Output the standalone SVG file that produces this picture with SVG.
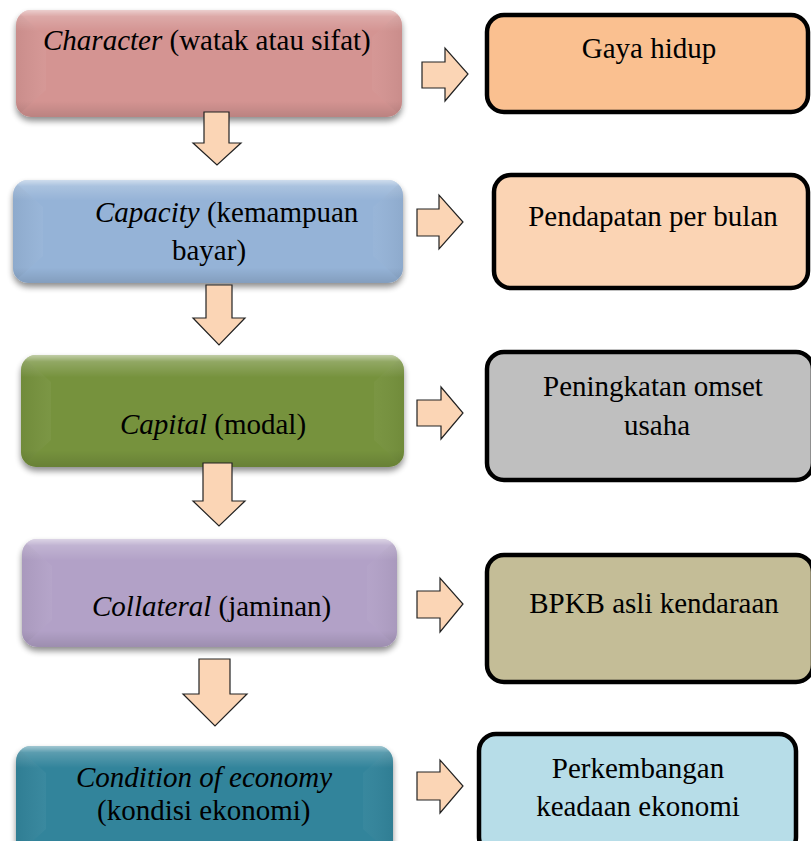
<svg xmlns="http://www.w3.org/2000/svg" width="811" height="841" viewBox="0 0 811 841" font-family="Liberation Serif, serif">
  <style>
    .lbl { font-size: 29px; fill: #000; }
    .it { font-style: italic; }
    .arrow { fill: #fbd5b5; stroke: #222; stroke-width: 1.2; stroke-linejoin: miter; }
    .out { stroke: #000; stroke-width: 4.5; }
    .gloss { fill: url(#gloss); }
    .facetL { fill: url(#facetL); }
    .facetR { fill: url(#facetR); }
  </style>
  <defs>
    <filter id="shadow" x="-10%" y="-20%" width="120%" height="150%">
      <feGaussianBlur in="SourceAlpha" stdDeviation="3"/>
      <feOffset dy="4" result="b"/>
      <feComponentTransfer><feFuncA type="linear" slope="0.45"/></feComponentTransfer>
      <feMerge><feMergeNode/><feMergeNode in="SourceGraphic"/></feMerge>
    </filter>
    <linearGradient id="gloss" x1="0" y1="0" x2="0" y2="1">
      <stop offset="0" stop-color="#fff" stop-opacity="0.55"/>
      <stop offset="0.06" stop-color="#fff" stop-opacity="0.2"/>
      <stop offset="0.2" stop-color="#fff" stop-opacity="0"/>
      <stop offset="0.85" stop-color="#000" stop-opacity="0"/>
      <stop offset="1" stop-color="#000" stop-opacity="0.12"/>
    </linearGradient>
    <linearGradient id="facetL" x1="0" y1="0" x2="1" y2="0">
      <stop offset="0" stop-color="#000" stop-opacity="0.05"/>
      <stop offset="1" stop-color="#fff" stop-opacity="0.04"/>
    </linearGradient>
    <linearGradient id="facetR" x1="0" y1="0" x2="1" y2="0">
      <stop offset="0" stop-color="#fff" stop-opacity="0.03"/>
      <stop offset="1" stop-color="#000" stop-opacity="0.05"/>
    </linearGradient>
    <clipPath id="c1"><rect x="16" y="10" width="386" height="107" rx="15"/></clipPath>
    <clipPath id="c2"><rect x="13" y="180" width="390" height="103" rx="15"/></clipPath>
    <clipPath id="c3"><rect x="21" y="355" width="383" height="112" rx="15"/></clipPath>
    <clipPath id="c4"><rect x="22" y="539" width="375" height="108" rx="15"/></clipPath>
    <clipPath id="c5"><rect x="16" y="746" width="377" height="110" rx="15"/></clipPath>
  </defs>

  <rect width="811" height="841" fill="#fff"/>

  <!-- left column: the five C's -->
  <g id="character">
    <rect x="16" y="10" width="386" height="107" rx="15" fill="#d49492" filter="url(#shadow)"/>
    <g clip-path="url(#c1)">
      <polygon class="facetL" points="16,10 46,37 46,90 16,117"/>
      <polygon class="facetR" points="402,10 372,37 372,90 402,117"/>
      <rect class="gloss" x="16" y="10" width="386" height="107"/>
    </g>
    <text class="lbl" x="43" y="50"><tspan class="it">Character</tspan> (watak atau sifat)</text>
  </g>

  <g id="capacity">
    <rect x="13" y="180" width="390" height="103" rx="15" fill="#95b3d7" filter="url(#shadow)"/>
    <g clip-path="url(#c2)">
      <polygon class="facetL" points="13,180 43,207 43,256 13,283"/>
      <polygon class="facetR" points="403,180 373,207 373,256 403,283"/>
      <rect class="gloss" x="13" y="180" width="390" height="103"/>
    </g>
    <text class="lbl" x="95" y="222"><tspan class="it">Capacity</tspan> (kemampuan</text>
    <text class="lbl" x="172" y="260">bayar)</text>
  </g>

  <g id="capital">
    <rect x="21" y="355" width="383" height="112" rx="15" fill="#76923c" filter="url(#shadow)"/>
    <g clip-path="url(#c3)">
      <polygon class="facetL" points="21,355 51,382 51,440 21,467"/>
      <polygon class="facetR" points="404,355 374,382 374,440 404,467"/>
      <rect class="gloss" x="21" y="355" width="383" height="112"/>
    </g>
    <text class="lbl" x="120" y="434"><tspan class="it">Capital</tspan> (modal)</text>
  </g>

  <g id="collateral">
    <rect x="22" y="539" width="375" height="108" rx="15" fill="#b2a1c7" filter="url(#shadow)"/>
    <g clip-path="url(#c4)">
      <polygon class="facetL" points="22,539 52,566 52,620 22,647"/>
      <polygon class="facetR" points="397,539 367,566 367,620 397,647"/>
      <rect class="gloss" x="22" y="539" width="375" height="108"/>
    </g>
    <text class="lbl" x="92" y="616"><tspan class="it">Collateral</tspan> (jaminan)</text>
  </g>

  <g id="condition">
    <rect x="16" y="746" width="377" height="110" rx="15" fill="#31849b" filter="url(#shadow)"/>
    <g clip-path="url(#c5)">
      <polygon class="facetL" points="16,746 46,773 46,829 16,856"/>
      <polygon class="facetR" points="393,746 363,773 363,829 393,856"/>
      <rect class="gloss" x="16" y="746" width="377" height="110"/>
    </g>
    <text class="lbl it" x="76" y="787">Condition of economy</text>
    <text class="lbl" x="97" y="820">(kondisi ekonomi)</text>
  </g>

  <!-- right column: indicators -->
  <g id="gaya-hidup">
    <rect class="out" x="487" y="15" width="321" height="97" rx="17" fill="#fac090"/>
    <text class="lbl" x="649" y="58" text-anchor="middle">Gaya hidup</text>
  </g>

  <g id="pendapatan">
    <rect class="out" x="494" y="175" width="314" height="113" rx="17" fill="#fbd4b4"/>
    <text class="lbl" x="653" y="226" text-anchor="middle">Pendapatan per bulan</text>
  </g>

  <g id="omset">
    <rect class="out" x="487" y="352" width="326" height="128" rx="17" fill="#bfbfbf"/>
    <text class="lbl" x="653" y="396" text-anchor="middle">Peningkatan omset</text>
    <text class="lbl" x="657" y="435" text-anchor="middle">usaha</text>
  </g>

  <g id="bpkb">
    <rect class="out" x="487" y="555" width="326" height="127" rx="17" fill="#c4bd97"/>
    <text class="lbl" x="654" y="613" text-anchor="middle">BPKB asli kendaraan</text>
  </g>

  <g id="ekonomi">
    <rect class="out" x="479" y="734" width="317" height="120" rx="17" fill="#b7dde8"/>
    <text class="lbl" x="638" y="778" text-anchor="middle">Perkembangan</text>
    <text class="lbl" x="638" y="816" text-anchor="middle">keadaan ekonomi</text>
  </g>

  <!-- block arrows -->
  <g id="connectors">
    <path class="arrow" d="M204,112 H229 V143 H241 L217,165 L193,143 H204 Z"/>
    <path class="arrow" d="M206,285 H232 V318 H245 L219,345 L193,318 H206 Z"/>
    <path class="arrow" d="M203,463 H232 V501 H245 L219,526 L193,501 H203 Z"/>
    <path class="arrow" d="M199,659 H230 V694 H247 L215,726 L183,694 H199 Z"/>

    <path class="arrow" d="M422,62 H445 V48 L468,74 L445,101 V88 H422 Z"/>
    <path class="arrow" d="M417,209 H439 V195 L463,222 L439,249 V236 H417 Z"/>
    <path class="arrow" d="M417,400 H441 V387 L463,413 L441,439 V426 H417 Z"/>
    <path class="arrow" d="M417,591 H440 V578 L463,604 L440,632 V618 H417 Z"/>
    <path class="arrow" d="M417,772 H440 V760 L463,786 L440,813 V800 H417 Z"/>
  </g>
</svg>
